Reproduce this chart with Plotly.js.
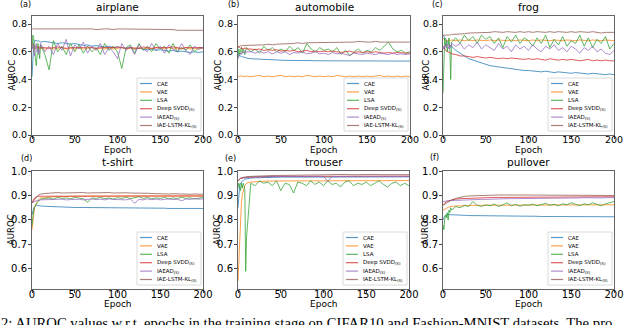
<!DOCTYPE html>
<html>
<head>
<meta charset="utf-8">
<script src="https://cdn.plot.ly/plotly-3.0.1.min.js"></script>
<style>
  body { margin: 0; background: #fff; }
  #graph { width: 640px; height: 325px; }
</style>
</head>
<body>
<div id="graph"></div>
<script>
/* epochs sampled from the curves (dense at the start, then every 5) */
var epochs = [0,1,2,3,4,5,6,7,8,9,10,15,20,25,30,35,40,45,50,55,60,65,70,75,80,85,90,95,100,105,110,115,120,125,130,135,140,145,150,155,160,165,170,175,180,185,190,195,200];

var methods = ['CAE', 'VAE', 'LSA', 'Deep SVDD<sub>(S)</sub>', 'IAEAD<sub>(S)</sub>', 'IAE-LSTM-KL<sub>(S)</sub>'];
var colors = ['#1f77b4', '#ff7f0e', '#2ca02c', '#d62728', '#9467bd', '#8c564b'];
var titles = ['airplane', 'automobile', 'frog', 't-shirt', 'trouser', 'pullover'];
var tags = ['(a)', '(b)', '(c)', '(d)', '(e)', '(f)'];
var xTicks = [0, 50, 100, 150, 200];
var yTicksTop = [0.0, 0.2, 0.4, 0.6, 0.8];
var yTicksBottom = [0.6, 0.7, 0.8, 0.9, 1.0];

/* (a) airplane */
var airplane_CAE = [0.42,0.60,0.66,0.68,0.68,0.685,0.68,0.675,0.68,0.675,0.67,
 0.675,0.67,0.665,0.66,0.665,0.66,0.655,0.66,
 0.65,0.645,0.65,0.64,0.645,0.64,0.635,0.64,0.63,0.635,
 0.63,0.625,0.63,0.62,0.625,0.62,0.615,0.62,0.61,0.615,
 0.61,0.605,0.61,0.60,0.605,0.60,0.595,0.60,0.595,0.60];
var airplane_VAE = [0.64,0.63,0.62,0.63,0.62,0.63,0.625,0.62,0.63,0.62,0.625,
 0.62,0.63,0.62,0.625,0.63,0.62,0.625,0.62,
 0.63,0.62,0.625,0.63,0.62,0.625,0.62,0.63,0.62,0.625,
 0.63,0.62,0.625,0.62,0.63,0.62,0.625,0.62,0.63,0.625,
 0.62,0.63,0.62,0.625,0.62,0.63,0.62,0.625,0.62,0.625];
var airplane_LSA = [0.62,0.72,0.70,0.60,0.55,0.50,0.58,0.66,0.60,0.55,0.65,
 0.58,0.47,0.68,0.60,0.64,0.58,0.66,0.60,
 0.65,0.59,0.64,0.60,0.63,0.58,0.66,0.61,0.64,0.60,
 0.48,0.63,0.65,0.59,0.66,0.61,0.64,0.60,0.66,0.62,
 0.64,0.59,0.66,0.60,0.63,0.61,0.65,0.60,0.63,0.63];
var airplane_SVDD = [0.66,0.65,0.64,0.64,0.635,0.63,0.635,0.63,0.63,0.635,0.63,
 0.63,0.625,0.63,0.635,0.63,0.625,0.63,0.63,
 0.625,0.63,0.635,0.63,0.625,0.63,0.63,0.625,0.63,0.635,
 0.63,0.625,0.63,0.63,0.625,0.635,0.63,0.625,0.63,0.63,
 0.625,0.63,0.635,0.63,0.625,0.63,0.63,0.625,0.63,0.63];
var airplane_IAEAD = [0.62,0.64,0.60,0.57,0.64,0.66,0.60,0.62,0.58,0.63,0.66,
 0.60,0.64,0.58,0.66,0.61,0.69,0.57,0.65,
 0.62,0.67,0.59,0.64,0.61,0.66,0.58,0.63,0.60,0.55,
 0.66,0.61,0.64,0.58,0.65,0.62,0.60,0.66,0.61,0.64,
 0.59,0.65,0.62,0.60,0.66,0.61,0.58,0.64,0.62,0.63];
var airplane_KL = [0.76,0.765,0.77,0.765,0.765,0.77,0.765,0.77,0.765,0.765,0.77,
 0.765,0.77,0.765,0.765,0.77,0.765,0.765,0.765,
 0.765,0.77,0.765,0.765,0.76,0.765,0.765,0.765,0.76,0.765,
 0.765,0.76,0.765,0.765,0.76,0.765,0.76,0.765,0.76,0.765,
 0.76,0.765,0.76,0.755,0.755,0.76,0.755,0.755,0.76,0.755];

/* (b) automobile */
var automobile_CAE = [0.58,0.575,0.57,0.57,0.565,0.565,0.56,0.56,0.56,0.555,0.555,
 0.55,0.548,0.545,0.543,0.542,0.54,0.54,0.54,
 0.538,0.538,0.537,0.537,0.536,0.536,0.536,0.535,0.535,0.535,
 0.535,0.535,0.534,0.535,0.534,0.534,0.535,0.534,0.534,0.534,
 0.534,0.534,0.533,0.534,0.533,0.534,0.533,0.533,0.533,0.533];
var automobile_VAE = [0.42,0.425,0.42,0.425,0.43,0.42,0.425,0.42,0.425,0.42,0.425,
 0.42,0.425,0.43,0.42,0.425,0.42,0.425,0.43,
 0.42,0.425,0.42,0.425,0.42,0.43,0.425,0.42,0.425,0.42,
 0.425,0.42,0.43,0.425,0.42,0.425,0.42,0.425,0.42,0.425,
 0.42,0.425,0.43,0.42,0.425,0.42,0.425,0.42,0.425,0.42];
var automobile_LSA = [0.55,0.62,0.58,0.60,0.63,0.59,0.62,0.60,0.58,0.61,0.63,
 0.60,0.62,0.59,0.64,0.61,0.63,0.60,0.62,
 0.60,0.64,0.61,0.63,0.59,0.66,0.62,0.60,0.63,0.61,
 0.62,0.60,0.63,0.58,0.61,0.57,0.60,0.62,0.59,0.61,
 0.60,0.63,0.61,0.64,0.67,0.62,0.60,0.61,0.59,0.60];
var automobile_SVDD = [0.63,0.64,0.63,0.625,0.63,0.62,0.625,0.62,0.63,0.62,0.62,
 0.62,0.615,0.62,0.61,0.615,0.61,0.615,0.605,
 0.61,0.605,0.61,0.60,0.605,0.61,0.60,0.605,0.60,0.605,
 0.60,0.605,0.60,0.595,0.60,0.605,0.595,0.60,0.595,0.60,
 0.595,0.60,0.595,0.59,0.595,0.59,0.595,0.59,0.59,0.59];
var automobile_IAEAD = [0.55,0.57,0.58,0.59,0.58,0.60,0.59,0.60,0.61,0.59,0.60,
 0.60,0.59,0.605,0.59,0.60,0.585,0.60,0.59,
 0.60,0.58,0.595,0.59,0.60,0.585,0.59,0.60,0.585,0.59,
 0.58,0.595,0.585,0.59,0.58,0.575,0.59,0.585,0.58,0.59,
 0.585,0.58,0.59,0.585,0.58,0.59,0.58,0.585,0.58,0.585];
var automobile_KL = [0.63,0.64,0.64,0.645,0.64,0.645,0.645,0.645,0.645,0.645,0.65,
 0.645,0.65,0.65,0.65,0.655,0.65,0.655,0.655,
 0.655,0.66,0.66,0.665,0.66,0.665,0.665,0.665,0.665,0.67,
 0.665,0.67,0.67,0.665,0.67,0.67,0.67,0.675,0.67,0.67,
 0.67,0.675,0.67,0.67,0.675,0.67,0.67,0.675,0.67,0.67];

/* (c) frog */
var frog_CAE = [0.72,0.71,0.70,0.69,0.68,0.67,0.66,0.66,0.65,0.64,0.64,
 0.61,0.59,0.57,0.55,0.54,0.53,0.52,0.505,
 0.50,0.495,0.49,0.485,0.48,0.475,0.475,0.47,0.465,0.465,
 0.46,0.46,0.455,0.46,0.455,0.45,0.455,0.45,0.45,0.445,
 0.45,0.445,0.445,0.44,0.445,0.44,0.44,0.435,0.44,0.435];
var frog_VAE = [0.70,0.69,0.685,0.68,0.685,0.68,0.685,0.68,0.685,0.68,0.685,
 0.68,0.685,0.68,0.685,0.68,0.685,0.68,0.68,
 0.685,0.68,0.685,0.68,0.68,0.685,0.68,0.685,0.68,0.68,
 0.685,0.68,0.685,0.68,0.68,0.685,0.68,0.68,0.685,0.68,
 0.68,0.685,0.68,0.68,0.685,0.68,0.68,0.685,0.68,0.68];
var frog_LSA = [0.30,0.62,0.70,0.64,0.68,0.60,0.66,0.70,0.62,0.40,0.67,
 0.70,0.66,0.72,0.68,0.71,0.66,0.72,0.69,
 0.71,0.66,0.70,0.63,0.71,0.67,0.72,0.66,0.70,0.68,
 0.64,0.70,0.66,0.72,0.63,0.69,0.65,0.71,0.64,0.68,
 0.66,0.72,0.64,0.70,0.63,0.69,0.66,0.71,0.62,0.66];
var frog_SVDD = [0.62,0.63,0.62,0.61,0.61,0.60,0.60,0.595,0.59,0.59,0.585,
 0.58,0.57,0.57,0.565,0.56,0.565,0.56,0.555,
 0.56,0.555,0.55,0.555,0.55,0.555,0.55,0.55,0.545,0.55,
 0.545,0.55,0.545,0.54,0.55,0.545,0.54,0.545,0.54,0.545,
 0.54,0.535,0.54,0.545,0.535,0.54,0.535,0.54,0.535,0.535];
var frog_IAEAD = [0.62,0.64,0.62,0.65,0.63,0.66,0.64,0.62,0.65,0.63,0.66,
 0.64,0.66,0.62,0.65,0.63,0.67,0.62,0.65,
 0.63,0.61,0.66,0.62,0.64,0.60,0.65,0.62,0.64,0.61,
 0.65,0.62,0.60,0.64,0.62,0.65,0.61,0.63,0.60,0.64,
 0.62,0.59,0.63,0.61,0.64,0.60,0.62,0.59,0.58,0.61];
var frog_KL = [0.72,0.72,0.715,0.72,0.72,0.715,0.72,0.72,0.725,0.72,0.725,
 0.725,0.73,0.73,0.735,0.735,0.74,0.735,0.74,
 0.74,0.745,0.74,0.74,0.745,0.74,0.74,0.745,0.74,0.745,
 0.74,0.745,0.74,0.74,0.745,0.74,0.745,0.74,0.74,0.745,
 0.74,0.745,0.74,0.74,0.745,0.74,0.735,0.74,0.74,0.74];

/* (d) t-shirt */
var tshirt_CAE = [0.82,0.84,0.85,0.855,0.86,0.86,0.86,0.86,0.858,0.858,0.857,
 0.856,0.855,0.854,0.853,0.853,0.852,0.852,0.851,
 0.851,0.851,0.85,0.85,0.85,0.85,0.85,0.849,0.849,0.849,
 0.849,0.849,0.848,0.849,0.848,0.848,0.848,0.848,0.848,0.848,
 0.848,0.847,0.848,0.847,0.847,0.847,0.847,0.847,0.847,0.847];
var tshirt_VAE = [0.76,0.80,0.83,0.85,0.86,0.87,0.875,0.88,0.885,0.885,0.89,
 0.89,0.893,0.895,0.895,0.896,0.896,0.897,0.897,
 0.897,0.898,0.897,0.898,0.898,0.897,0.898,0.898,0.898,0.898,
 0.898,0.898,0.899,0.898,0.898,0.898,0.899,0.898,0.898,0.898,
 0.898,0.899,0.898,0.898,0.899,0.898,0.898,0.899,0.898,0.898];
var tshirt_LSA = [0.78,0.82,0.84,0.85,0.86,0.865,0.87,0.875,0.88,0.88,0.885,
 0.888,0.89,0.885,0.892,0.888,0.89,0.886,0.892,
 0.889,0.887,0.872,0.89,0.888,0.892,0.887,0.89,0.885,0.891,
 0.888,0.893,0.887,0.89,0.895,0.888,0.892,0.886,0.89,0.888,
 0.892,0.886,0.89,0.887,0.893,0.888,0.89,0.886,0.89,0.892];
var tshirt_SVDD = [0.87,0.88,0.885,0.89,0.893,0.895,0.896,0.897,0.897,0.897,0.898,
 0.898,0.899,0.898,0.899,0.898,0.899,0.898,0.898,
 0.899,0.898,0.898,0.899,0.898,0.898,0.899,0.898,0.898,0.898,
 0.898,0.899,0.898,0.898,0.898,0.899,0.898,0.898,0.898,0.898,
 0.898,0.898,0.899,0.898,0.898,0.898,0.898,0.899,0.898,0.898];
var tshirt_IAEAD = [0.87,0.872,0.875,0.876,0.878,0.878,0.88,0.88,0.882,0.881,0.882,
 0.883,0.882,0.884,0.883,0.885,0.882,0.884,0.883,
 0.885,0.882,0.884,0.886,0.883,0.885,0.882,0.886,0.884,0.883,
 0.885,0.882,0.886,0.868,0.884,0.882,0.886,0.883,0.885,0.882,
 0.884,0.886,0.883,0.885,0.878,0.886,0.884,0.887,0.885,0.886];
var tshirt_KL = [0.87,0.875,0.88,0.885,0.89,0.895,0.898,0.90,0.902,0.905,0.906,
 0.908,0.91,0.91,0.912,0.91,0.911,0.912,0.91,
 0.911,0.912,0.91,0.911,0.912,0.91,0.911,0.912,0.91,0.911,
 0.91,0.911,0.91,0.909,0.91,0.908,0.909,0.908,0.907,0.908,
 0.907,0.906,0.907,0.906,0.905,0.906,0.905,0.906,0.905,0.905];

/* (e) trouser */
var trouser_CAE = [0.85,0.91,0.94,0.95,0.955,0.96,0.963,0.965,0.967,0.968,0.969,
 0.971,0.972,0.973,0.973,0.974,0.974,0.974,0.975,
 0.975,0.975,0.975,0.976,0.975,0.976,0.975,0.976,0.976,0.975,
 0.976,0.976,0.975,0.976,0.976,0.976,0.975,0.976,0.976,0.976,
 0.976,0.975,0.976,0.976,0.976,0.976,0.975,0.976,0.976,0.976];
var trouser_VAE = [0.55,0.65,0.75,0.82,0.87,0.90,0.92,0.93,0.94,0.945,0.95,
 0.955,0.957,0.958,0.958,0.959,0.959,0.96,0.96,
 0.96,0.96,0.961,0.96,0.96,0.961,0.96,0.961,0.96,0.961,
 0.961,0.96,0.961,0.961,0.96,0.961,0.961,0.961,0.96,0.961,
 0.961,0.961,0.962,0.961,0.961,0.962,0.961,0.961,0.962,0.961];
var trouser_LSA = [0.93,0.95,0.94,0.92,0.95,0.93,0.95,0.94,0.92,0.59,0.73,
 0.95,0.94,0.96,0.95,0.955,0.94,0.96,0.92,
 0.95,0.945,0.91,0.955,0.95,0.94,0.96,0.945,0.955,0.94,
 0.96,0.945,0.95,0.935,0.955,0.96,0.94,0.95,0.945,0.955,
 0.94,0.95,0.96,0.945,0.935,0.95,0.955,0.94,0.95,0.94];
var trouser_SVDD = [0.96,0.965,0.968,0.97,0.97,0.972,0.972,0.973,0.973,0.974,0.974,
 0.975,0.976,0.976,0.977,0.977,0.977,0.978,0.978,
 0.978,0.978,0.978,0.979,0.978,0.979,0.978,0.979,0.979,0.978,
 0.979,0.979,0.979,0.978,0.979,0.979,0.979,0.979,0.978,0.979,
 0.979,0.979,0.979,0.979,0.979,0.978,0.979,0.979,0.979,0.979];
var trouser_IAEAD = [0.96,0.965,0.968,0.97,0.971,0.972,0.972,0.973,0.973,0.974,0.974,
 0.975,0.976,0.977,0.977,0.977,0.978,0.977,0.978,
 0.977,0.978,0.978,0.977,0.978,0.978,0.977,0.978,0.978,0.978,
 0.958,0.978,0.977,0.978,0.978,0.977,0.978,0.978,0.978,0.977,
 0.978,0.978,0.977,0.978,0.978,0.978,0.977,0.978,0.978,0.978];
var trouser_KL = [0.96,0.965,0.968,0.97,0.972,0.973,0.974,0.975,0.976,0.976,0.977,
 0.978,0.979,0.98,0.98,0.981,0.981,0.982,0.982,
 0.982,0.983,0.983,0.983,0.984,0.984,0.984,0.984,0.985,0.985,
 0.985,0.985,0.986,0.985,0.985,0.986,0.985,0.985,0.986,0.985,
 0.985,0.986,0.985,0.985,0.986,0.985,0.985,0.986,0.985,0.985];

/* (f) pullover */
var pullover_CAE = [0.80,0.81,0.815,0.82,0.822,0.823,0.822,0.822,0.821,0.821,0.82,
 0.82,0.819,0.819,0.818,0.818,0.818,0.817,0.817,
 0.817,0.816,0.817,0.816,0.816,0.816,0.815,0.816,0.815,0.815,
 0.815,0.815,0.814,0.815,0.814,0.814,0.814,0.814,0.814,0.814,
 0.813,0.814,0.813,0.813,0.813,0.813,0.813,0.813,0.813,0.813];
var pullover_VAE = [0.84,0.842,0.845,0.848,0.85,0.851,0.852,0.853,0.854,0.855,0.855,
 0.857,0.858,0.858,0.859,0.86,0.86,0.86,0.86,
 0.86,0.861,0.86,0.861,0.861,0.86,0.861,0.861,0.861,0.861,
 0.861,0.861,0.862,0.861,0.861,0.862,0.861,0.862,0.862,0.861,
 0.862,0.862,0.861,0.862,0.862,0.862,0.862,0.861,0.862,0.862];
var pullover_LSA = [0.78,0.76,0.80,0.82,0.81,0.83,0.80,0.84,0.83,0.85,0.84,
 0.855,0.85,0.86,0.855,0.875,0.86,0.855,0.862,
 0.858,0.865,0.855,0.862,0.87,0.858,0.864,0.856,0.862,0.86,
 0.865,0.858,0.862,0.868,0.86,0.864,0.858,0.866,0.862,0.87,
 0.864,0.858,0.866,0.862,0.87,0.864,0.858,0.866,0.872,0.875];
var pullover_SVDD = [0.86,0.865,0.87,0.872,0.875,0.877,0.878,0.88,0.88,0.882,0.883,
 0.885,0.887,0.888,0.889,0.89,0.89,0.891,0.891,
 0.891,0.892,0.892,0.892,0.892,0.893,0.892,0.893,0.893,0.893,
 0.893,0.893,0.894,0.893,0.894,0.894,0.893,0.894,0.894,0.894,
 0.894,0.894,0.894,0.895,0.894,0.894,0.895,0.894,0.895,0.895];
var pullover_IAEAD = [0.875,0.876,0.876,0.877,0.877,0.878,0.878,0.878,0.879,0.879,0.88,
 0.88,0.881,0.882,0.882,0.883,0.883,0.884,0.884,
 0.885,0.885,0.886,0.886,0.887,0.887,0.887,0.888,0.888,0.888,
 0.888,0.889,0.889,0.889,0.889,0.89,0.89,0.89,0.89,0.89,
 0.89,0.89,0.891,0.89,0.891,0.891,0.89,0.891,0.891,0.891];
var pullover_KL = [0.86,0.862,0.865,0.868,0.87,0.872,0.875,0.877,0.879,0.88,0.882,
 0.888,0.893,0.896,0.898,0.899,0.90,0.90,0.901,
 0.901,0.901,0.902,0.902,0.901,0.902,0.902,0.902,0.902,0.902,
 0.902,0.902,0.902,0.901,0.902,0.902,0.902,0.901,0.902,0.902,
 0.901,0.902,0.901,0.901,0.902,0.901,0.901,0.901,0.90,0.90];

var panels = [
    [airplane_CAE, airplane_VAE, airplane_LSA, airplane_SVDD, airplane_IAEAD, airplane_KL],
    [automobile_CAE, automobile_VAE, automobile_LSA, automobile_SVDD, automobile_IAEAD, automobile_KL],
    [frog_CAE, frog_VAE, frog_LSA, frog_SVDD, frog_IAEAD, frog_KL],
    [tshirt_CAE, tshirt_VAE, tshirt_LSA, tshirt_SVDD, tshirt_IAEAD, tshirt_KL],
    [trouser_CAE, trouser_VAE, trouser_LSA, trouser_SVDD, trouser_IAEAD, trouser_KL],
    [pullover_CAE, pullover_VAE, pullover_LSA, pullover_SVDD, pullover_IAEAD, pullover_KL]
];

/* plot boxes in page pixels: left, right, top, bottom */
var boxes = [[32, 203, 16, 135], [238, 410, 16, 135], [443, 614, 16, 135],
             [32, 203, 171, 289], [238, 409, 171, 289], [443, 614, 171, 289]];
var tagPos = [[25, 5], [233, 5], [437, 5], [26, 158], [230, 158], [434, 157]];
var ylabelX = [11, 217, 425, 11, 217, 425];

var W = 640, H = 325;
function px(x) { return x / W; }
function py(y) { return 1 - y / H; }

var font = 'DejaVu Sans, sans-serif';
var data = [];
var shapes = [];
var annotations = [];
var layout = {
    width: W,
    height: H,
    margin: {l: 0, r: 0, t: 0, b: 0},
    paper_bgcolor: '#fff',
    plot_bgcolor: '#fff',
    showlegend: false,
    font: {family: font, color: '#000'}
};

function note(text, x, y, size, opts) {
    var a = {
        text: text, xref: 'paper', yref: 'paper', x: px(x), y: py(y),
        xanchor: 'center', yanchor: 'middle', showarrow: false,
        font: {size: size, family: font, color: '#000'}
    };
    for (var key in opts) { a[key] = opts[key]; }
    annotations.push(a);
}

for (var i = 0; i < panels.length; i++) {
    var b = boxes[i];
    var isTop = i < 3;
    var xs = i === 0 ? '' : String(i + 1);
    for (var j = 0; j < methods.length; j++) {
        data.push({
            x: epochs,
            y: panels[i][j],
            type: 'scatter',
            mode: 'lines',
            xaxis: 'x' + xs,
            yaxis: 'y' + xs,
            opacity: 0.75,
            line: {color: colors[j], width: 1},
            hoverinfo: 'skip'
        });
    }
    layout['xaxis' + xs] = {
        domain: [px(b[0]), px(b[1])],
        anchor: 'y' + xs,
        range: [0, 200],
        tickvals: xTicks,
        ticks: 'outside', ticklen: 3, tickcolor: '#444',
        ticklabelstandoff: -7,
        tickfont: {size: isTop ? 9.5 : 10, family: font},
        showgrid: false, zeroline: false,
        showline: true, mirror: true, linecolor: '#666', linewidth: 1
    };
    layout['yaxis' + xs] = {
        domain: [py(b[3]), py(b[2])],
        anchor: 'x' + xs,
        range: isTop ? [0, 0.858] : [0.518, 1.0],
        tickvals: isTop ? yTicksTop : yTicksBottom,
        tickformat: '.1f',
        ticks: 'outside', ticklen: 3, tickcolor: '#444',
        ticklabelstandoff: -1,
        tickfont: {size: isTop ? 9.5 : 10, family: font},
        showgrid: false, zeroline: false,
        showline: true, mirror: true, linecolor: '#666', linewidth: 1
    };
    note(titles[i], (b[0] + b[1]) / 2, b[2] - 1, 10.5, {yanchor: 'bottom'});
    note(tags[i], tagPos[i][0], tagPos[i][1], 8);
    note('Epoch', (b[0] + b[1]) / 2, b[3] + 15, 9);
    note('AUROC', ylabelX[i], (b[2] + b[3]) / 2, 8.5, {textangle: -90});

    /* legend box drawn by hand so it can stay as compact as the original */
    var lx0 = b[1] - 66, lx1 = b[1] - 2, ly0 = b[3] - 57, ly1 = b[3] - 4;
    shapes.push({
        type: 'rect', xref: 'paper', yref: 'paper',
        x0: px(lx0), x1: px(lx1), y0: py(ly1), y1: py(ly0),
        line: {color: '#d0d0d0', width: 0.8}, fillcolor: 'rgba(255,255,255,0.85)'
    });
    for (var k = 0; k < methods.length; k++) {
        var ey = ly0 + 5.5 + k * 8.4;
        shapes.push({
            type: 'line', xref: 'paper', yref: 'paper',
            x0: px(lx0 + 3), x1: px(lx0 + 15), y0: py(ey), y1: py(ey),
            line: {color: colors[k], width: 1.2}, opacity: 0.75
        });
        note(methods[k], lx0 + 18, ey, 5.5, {xanchor: 'left'});
    }
}

/* cut-off caption line under the figure */
note('2: AUROC values w.r.t. epochs in the training stage on CIFAR10 and Fashion-MNIST datasets. The pro',
     -1, 313, 14.7, {xanchor: 'left', yanchor: 'top', font: {size: 14.7, family: 'Liberation Serif, serif', color: '#000'}});

layout.shapes = shapes;
layout.annotations = annotations;

Plotly.newPlot('graph', data, layout, {staticPlot: true, displayModeBar: false});
</script>
</body>
</html>
